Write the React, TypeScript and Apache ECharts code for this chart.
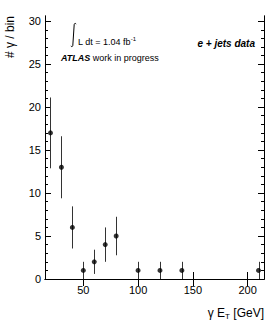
import React, { useEffect, useRef } from "react";
import * as echarts from "echarts";

const binCenters = [20, 30, 40, 50, 60, 70, 80, 100, 120, 140, 210];
const counts = [17, 13, 6, 1, 2, 4, 5, 1, 1, 1, 1];
const errLow = [4.12, 3.61, 2.45, 1, 1.41, 2, 2.24, 1, 1, 1, 1];
const errHigh = [4.12, 3.61, 2.45, 1, 1.41, 2, 2.24, 1, 1, 1, 1];
const xTickValues = [50, 100, 150, 200];
const yMajorTicks = [0, 5, 10, 15, 20, 25, 30];
const yMinorTicks = [1, 2, 3, 4, 6, 7, 8, 9, 11, 12, 13, 14, 16, 17, 18, 19, 21, 22, 23, 24, 26, 27, 28, 29];

const FONT = "Liberation Sans, Arial, Helvetica, sans-serif";

let registered = false;
function registerIntegral() {
  if (registered) return;
  registered = true;
  echarts.graphic.registerShape(
    "integralSign",
    echarts.graphic.extendPath("M5,1.2 C4.6,0 3.6,0 3.2,1.5 L1.8,22.5 C1.4,24 0.4,24 0,22.8", {})
  );
}

export default function App() {
  const ref = useRef<HTMLDivElement>(null);
  useEffect(() => {
    if (!ref.current) return;
    registerIntegral();
    const chart = echarts.init(ref.current, null, { renderer: "svg" });
    const axisLine = { show: true, lineStyle: { color: "#000", width: 1 } };
    const baseX = {
      type: "value",
      min: 15,
      max: 215,
      splitLine: { show: false },
      axisLine,
    };
    const baseY = {
      type: "value",
      min: 0,
      max: 30.6,
      splitLine: { show: false },
      axisLine,
    };
    const option: any = {
      animation: false,
      backgroundColor: "#fff",
      grid: { left: 45, right: 15, top: 16, bottom: 53, containLabel: false },
      xAxis: [
        {
          ...baseX,
          position: "bottom",
          axisTick: { show: true, inside: true, length: 7, customValues: xTickValues, lineStyle: { color: "#000" } },
          axisLabel: { show: true, customValues: xTickValues, fontSize: 11, color: "#000", margin: 5, fontFamily: FONT },
        },
        {
          ...baseX,
          position: "top",
          axisTick: { show: true, inside: true, length: 7, customValues: xTickValues, lineStyle: { color: "#000" } },
          axisLabel: { show: false },
        },
      ],
      yAxis: [
        {
          ...baseY,
          position: "left",
          axisTick: { show: true, inside: true, length: 6, customValues: yMajorTicks, lineStyle: { color: "#000" } },
          axisLabel: { show: true, customValues: yMajorTicks, fontSize: 11, color: "#000", margin: 4, fontFamily: FONT },
        },
        {
          ...baseY,
          position: "left",
          axisTick: { show: true, inside: true, length: 3, customValues: yMinorTicks, lineStyle: { color: "#000" } },
          axisLabel: { show: false },
        },
        {
          ...baseY,
          position: "right",
          axisTick: { show: true, inside: true, length: 6, customValues: yMajorTicks, lineStyle: { color: "#000" } },
          axisLabel: { show: false },
        },
        {
          ...baseY,
          position: "right",
          axisTick: { show: true, inside: true, length: 3, customValues: yMinorTicks, lineStyle: { color: "#000" } },
          axisLabel: { show: false },
        },
      ],
      series: [
        {
          type: "custom",
          xAxisIndex: 0,
          yAxisIndex: 0,
          encode: { x: 0, y: [1, 2] },
          data: binCenters.map((x, i) => [x, counts[i] - errLow[i], counts[i] + errHigh[i]]),
          renderItem: (params: any, api: any) => {
            const x = api.value(0);
            const p1 = api.coord([x, api.value(1)]);
            const p2 = api.coord([x, api.value(2)]);
            return {
              type: "line",
              shape: { x1: Math.round(p1[0]) + 0.5, y1: p1[1], x2: Math.round(p2[0]) + 0.5, y2: p2[1] },
              style: { stroke: "#333", lineWidth: 1 },
            };
          },
          z: 2,
        },
        {
          type: "scatter",
          xAxisIndex: 0,
          yAxisIndex: 0,
          symbol: "circle",
          symbolSize: 5,
          itemStyle: { color: "#000" },
          data: binCenters.map((x, i) => [x, counts[i]]),
          z: 3,
        },
      ],
      graphic: [
        {
          type: "text",
          x: 10,
          y: 16,
          rotation: Math.PI / 2,
          style: {
            text: "# γ / bin",
            fontSize: 12,
            fontFamily: FONT,
            fill: "#000",
            textAlign: "right",
            textVerticalAlign: "middle",
          },
        },
        {
          type: "text",
          x: 264,
          y: 313,
          style: {
            text: "γ E{sub|T} [GeV]",
            fontSize: 12,
            fontFamily: FONT,
            fill: "#000",
            textAlign: "right",
            textVerticalAlign: "middle",
            rich: {
              sub: { fontSize: 8, fontFamily: FONT, fill: "#000", padding: [7, 0, 0, 0] },
            },
          },
        },
        {
          type: "integralSign",
          x: 71,
          y: 23,
          scaleX: 1,
          scaleY: 1,
          style: { fill: "none", stroke: "#000", lineWidth: 1 },
        },
        {
          type: "text",
          x: 78,
          y: 42,
          style: {
            text: "L dt = 1.04 fb{sup|-1}",
            fontSize: 9,
            fontFamily: FONT,
            fill: "#000",
            textAlign: "left",
            textVerticalAlign: "middle",
            rich: {
              sup: { fontSize: 6, fontFamily: FONT, fill: "#000", padding: [0, 0, 6, 0] },
            },
          },
        },
        {
          type: "text",
          x: 61,
          y: 58,
          style: {
            text: "{b|ATLAS} work in progress",
            fontSize: 9,
            fontFamily: FONT,
            fill: "#000",
            textAlign: "left",
            textVerticalAlign: "middle",
            rich: {
              b: { fontSize: 9, fontFamily: FONT, fontWeight: "bold", fontStyle: "italic", fill: "#000" },
            },
          },
        },
        {
          type: "text",
          x: 255,
          y: 43,
          style: {
            text: "e + jets data",
            fontSize: 10,
            fontFamily: FONT,
            fontWeight: "bold",
            fontStyle: "italic",
            fill: "#000",
            textAlign: "right",
            textVerticalAlign: "middle",
          },
        },
      ],
    };
    chart.setOption(option);
    return () => chart.dispose();
  }, []);
  return (
    <div
      ref={ref}
      style={{ position: "fixed", left: 0, top: 0, width: 279, height: 332, background: "#fff" }}
    />
  );
}
